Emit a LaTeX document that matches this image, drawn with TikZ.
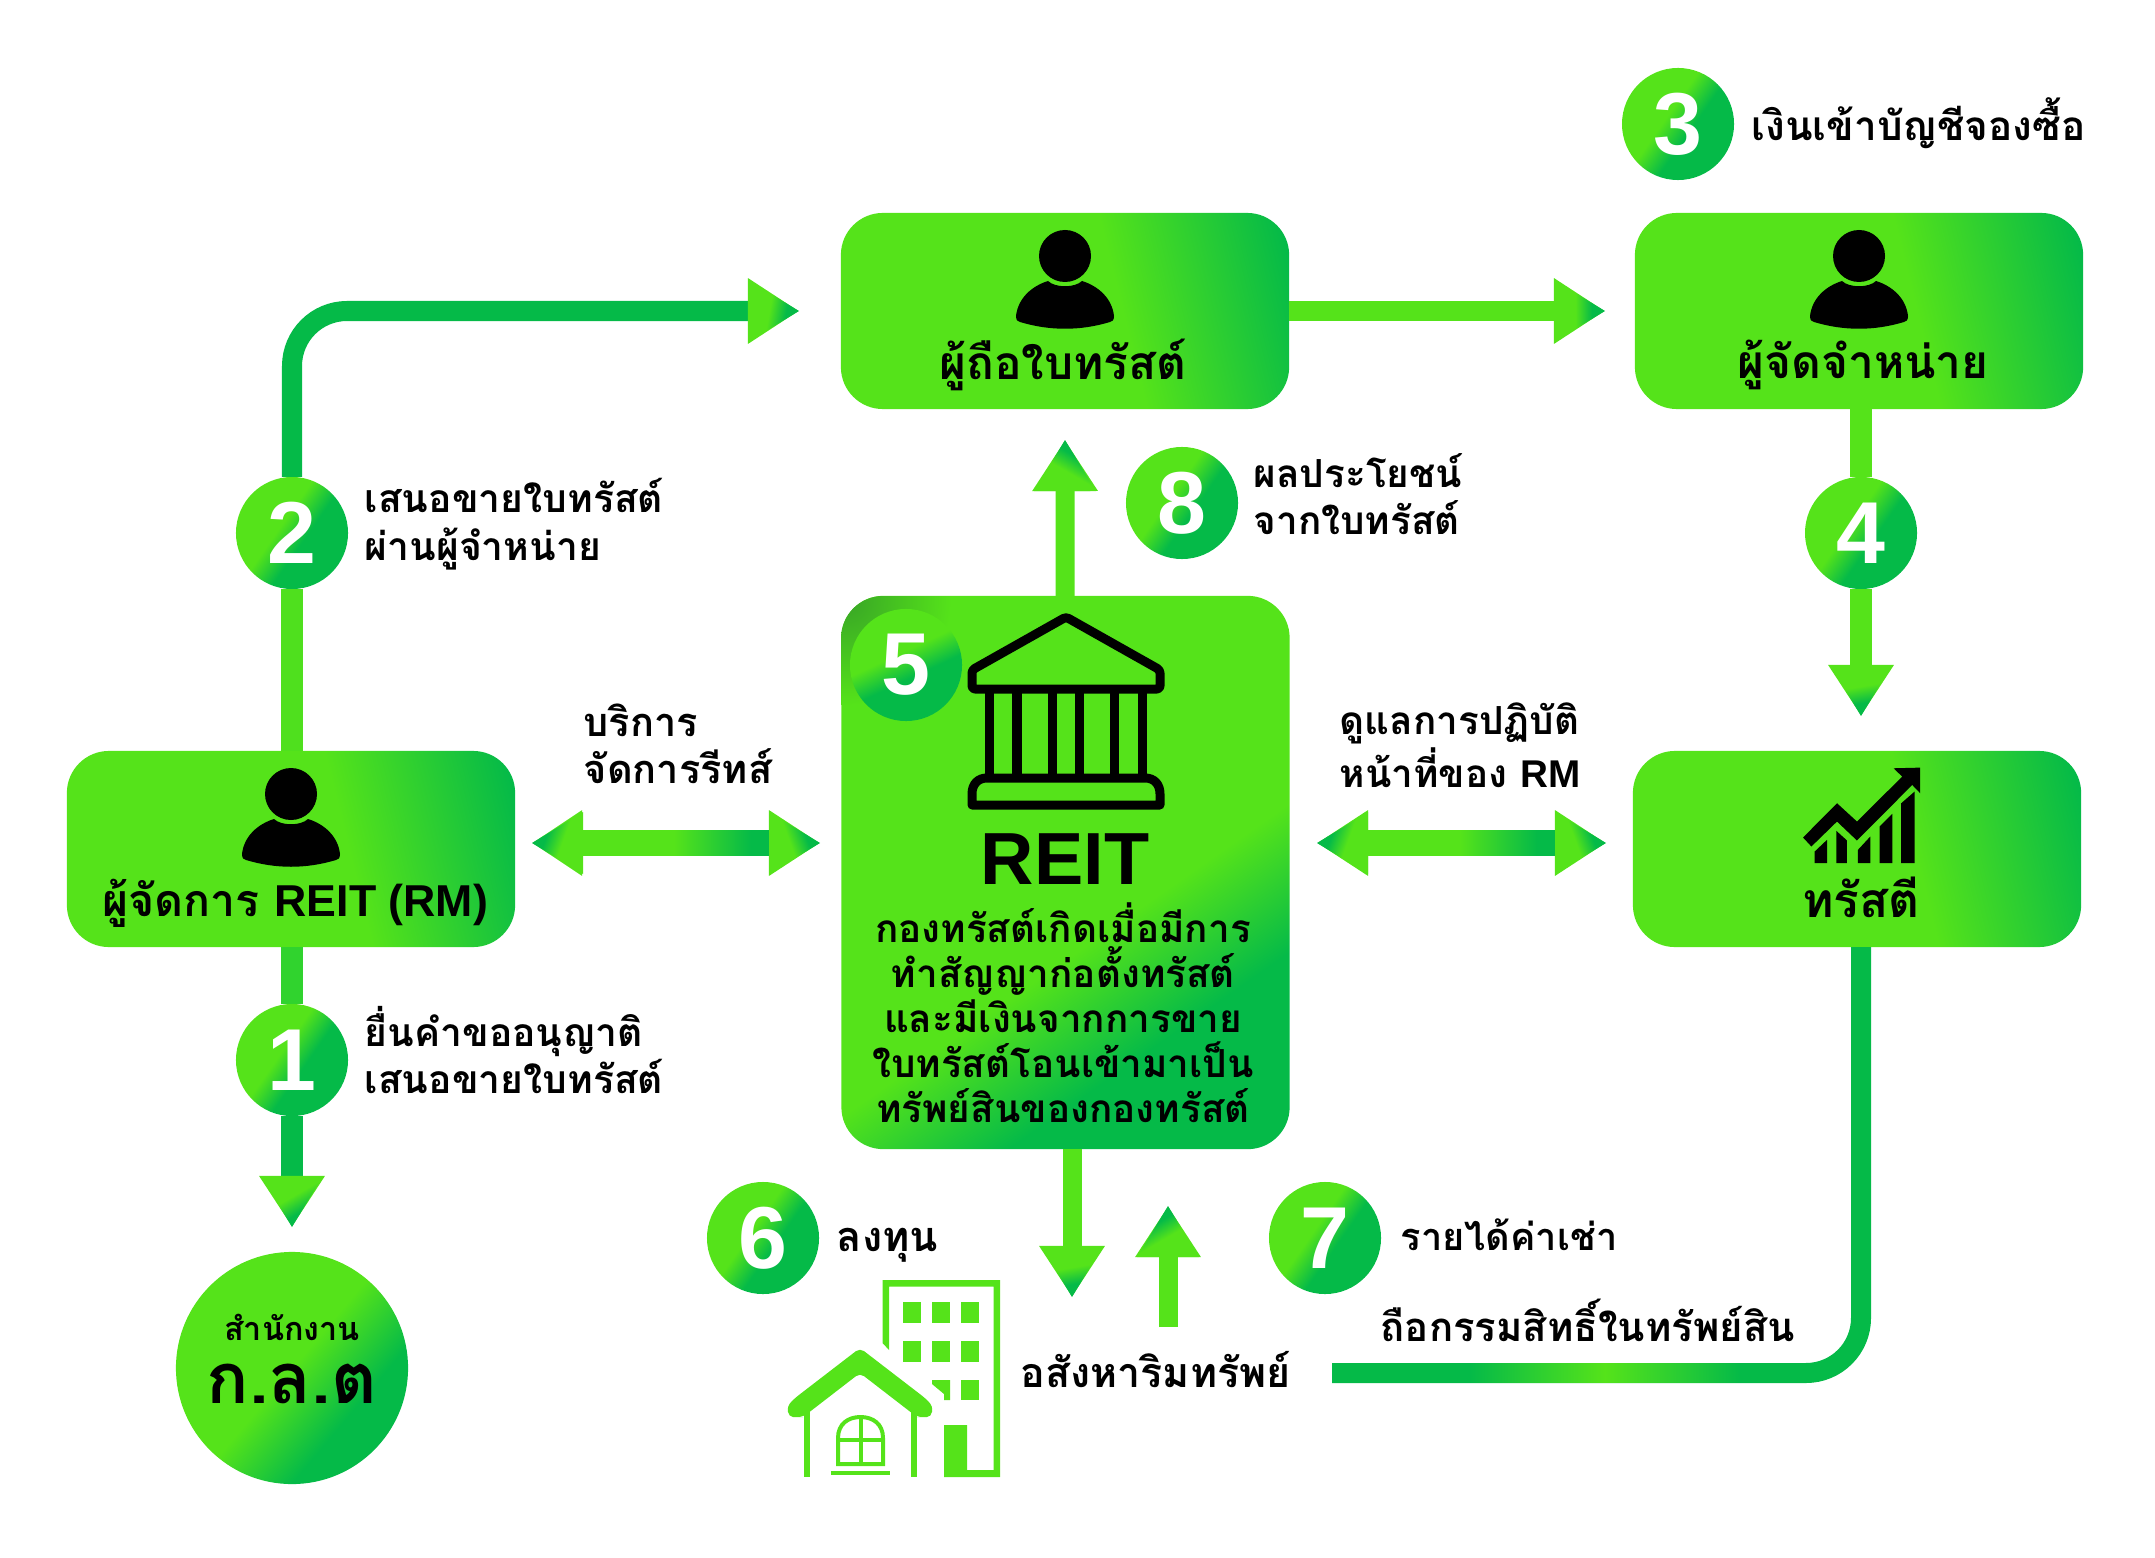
\documentclass[tikz,border=0pt]{standalone}
\usepackage{fontspec}
\usetikzlibrary{arrows.meta}
\newfontfamily\thaifont[Script=Thai]{Loma}
\newfontfamily\latfont{Liberation Sans}
\definecolor{lite}{HTML}{55E31A}
\definecolor{deep}{HTML}{05BA48}
\definecolor{midg}{HTML}{30D32E}
\definecolor{dusk}{HTML}{38A526}
\pgfdeclarehorizontalshading{boxfill}{100bp}{color(0bp)=(lite);color(57bp)=(lite);color(79bp)=(deep);color(100bp)=(deep)}
\pgfdeclarehorizontalshading{dotfill}{100bp}{color(0bp)=(lite);color(44bp)=(lite);color(56bp)=(deep);color(100bp)=(deep)}
\pgfdeclarehorizontalshading{bigfill}{100bp}{color(0bp)=(lite);color(50bp)=(lite);color(66bp)=(deep);color(100bp)=(deep)}
\pgfdeclarehorizontalshading{reitfill}{100bp}{color(0bp)=(lite);color(57bp)=(lite);color(69bp)=(deep);color(100bp)=(deep)}
\pgfdeclarehorizontalshading{headfill}{100bp}{color(0bp)=(lite);color(46bp)=(lite);color(62bp)=(deep);color(100bp)=(deep)}
\pgfdeclarehorizontalshading{shaftfill}{100bp}{color(0bp)=(lite);color(50bp)=(lite);color(70bp)=(deep);color(100bp)=(deep)}
\pgfdeclarehorizontalshading{bandfill}{100bp}{color(0bp)=(deep);color(25bp)=(deep);color(50bp)=(lite);color(75bp)=(deep);color(100bp)=(deep)}
\tikzset{
    greenbox/.style={shade,shading=boxfill,shading angle=14,rounded corners=.42cm,minimum width=4.48cm,minimum height=1.96cm,inner sep=0pt,outer sep=0pt},
    numdot/.style={circle,shade,shading=dotfill,shading angle=-35,minimum size=1.12cm,inner sep=0pt,outer sep=0pt,text=white,font=\latfont\bfseries\fontsize{25}{25}\selectfont},
    boxtext/.style={inner sep=0pt,font=\thaifont\bfseries\fontsize{#1}{15}\selectfont},
    boxtext/.default=13.1,
    sidetext/.style={inner sep=0pt,anchor=west,align=left,font=\thaifont\bfseries\fontsize{#1}{13.5}\selectfont},
    sidetext/.default=11,
    flow/.style={line width=.2cm,-{Triangle[length=.51cm,width=.62cm,color=lite]}},
    bar/.style={line width=.22cm},
    bankline/.style={line width=.09cm,line join=round,draw=black}
}
\newcommand{\tipshade}[3]{\shade[shading=headfill,shading angle=#3,shift={(#1)},rotate=#2] (0,0) -- (-51,31) -- (-51,-31) -- cycle;}
\newcommand{\personicon}[1]{\begin{scope}[shift={(#1)}]
    \fill (0,0) circle (26);
    \fill (-49,60) .. controls (-47,42) and (-33,30) .. (-17,25) .. controls (-10,32) and (10,32) .. (17,25) .. controls (33,30) and (47,42) .. (49,60) .. controls (49,65) and (47,65) .. (45,66) .. controls (15,75) and (-15,75) .. (-45,66) .. controls (-47,65) and (-49,65) .. (-49,60) -- cycle;
\end{scope}}
\begin{document}
\begin{tikzpicture}[x=.01cm,y=-.01cm]
                \useasboundingbox (0,0) rectangle (2155,1558);
                \node[greenbox] (holder) at (1065,311) {};
                \node[greenbox] (dist) at (1859,311) {};
                \node[greenbox] (rm) at (291,849) {};
                \node[greenbox] (trustee) at (1857,849) {};
                \node[greenbox,shading=reitfill,shading angle=-55,minimum height=5.53cm] (reit) at (1065.5,872.5) {};
                \begin{scope}
                    \clip[rounded corners=.42cm] (841,596) rectangle (1290,1149);
                    \shade[inner color=dusk,outer color=lite] (846,600) circle (105);
                \end{scope}
                \node[circle,shade,shading=bigfill,shading angle=-40,minimum size=2.32cm,inner sep=0pt,outer sep=0pt] (sec) at (292,1368) {};
                \node[numdot] (c1) at (292,1060) {1};
                \node[numdot] (c2) at (292,533) {2};
                \node[numdot] (c3) at (1678,124) {3};
                \node[numdot] (c4) at (1861,533) {4};
                \node[numdot,shading angle=-65] (c5) at (906,665) {5};
                \node[numdot] (c6) at (763,1238) {6};
                \node[numdot] (c7) at (1325,1238) {7};
                \node[numdot] (c8) at (1182,503) {8};
                \coordinate (t1) at (292,1227);
                \coordinate (t2) at (799,311);
                \coordinate (t3) at (1605,311);
                \coordinate (t4) at (1861,716);
                \coordinate (t8) at (1065,440);
                \coordinate (t6) at (1072,1297);
                \coordinate (t7) at (1168,1206);
                \coordinate (u7) at (1168,1327);
                \coordinate (pt) at (1332,1373);
                \coordinate (dla) at (532,843);
                \coordinate (dlb) at (820,843);
                \coordinate (dra) at (1317,843);
                \coordinate (drb) at (1606,843);
                \draw[bar,color=midg] (rm.south -| c1) -- (c1);
                \draw[flow,line width=.22cm,color=deep] (c1) -- (t1);
                \draw[bar,color=lite!92!deep] (rm.north -| c2) -- (c2);
                \draw[flow,color=deep,rounded corners=.55cm] (c2) |- (t2);
                \draw[flow,color=lite] (holder) -- (t3);
                \draw[bar,color=lite] (dist.south -| c4) -- (c4);
                \draw[flow,line width=.22cm,color=lite] (c4) -- (t4);
                \draw[flow,line width=.19cm,color=lite] (reit) -- (t8);
                \draw[flow,line width=.19cm,color=lite] (reit.south -| t6) -- (t6);
                \draw[flow,line width=.19cm,color=lite] (u7) -- (t7);
                \draw[line width=.2cm,color=deep,rounded corners=.55cm] (trustee.south -| c4) |- (pt);
                \draw[line width=.25cm,color=deep,{Triangle[length=.5cm,width=.62cm,color=lite]}-{Triangle[length=.51cm,width=.62cm,color=lite]}] (dla) -- (dlb);
                \draw[line width=.25cm,color=deep,{Triangle[length=.51cm,width=.62cm,color=lite]}-{Triangle[length=.51cm,width=.62cm,color=lite]}] (dra) -- (drb);
                \shade[shading=shaftfill] (578,830.5) rectangle (770,855.5);
                \shade[shading=shaftfill] (1364,830.5) rectangle (1556,855.5);
                \shade[shading=bandfill] (1470,1363.5) rectangle (1740,1382.5);
                \tipshade{t1}{-90}{-60}
                \tipshade{t2}{0}{-10}
                \tipshade{t3}{0}{0}
                \tipshade{t4}{-90}{-80}
                \tipshade{t8}{90}{60}
                \tipshade{t6}{-90}{-80}
                \tipshade{t7}{90}{120}
                \tipshade{dlb}{0}{20}
                \tipshade{drb}{0}{20}
                \tipshade{dla}{180}{160}
                \tipshade{dra}{180}{160}
                \personicon{1065,256}
                \personicon{1859,256}
                \personicon{291,794}
                \node[boxtext] (holdertext) at (1063,365) {ผู้ถือใบทรัสต์};
                \node[boxtext] (disttext) at (1863,365) {ผู้จัดจำหน่าย};
                \node[boxtext=12.7] (rmtext) at (295,903) {ผู้จัดการ {\latfont REIT (RM)}};
                \node[boxtext=13.6] (trusteetext) at (1861,897) {ทรัสตี};
                \node[inner sep=0pt,font=\latfont\bfseries\fontsize{21}{21}\selectfont] (reitname) at (1065,859) {REIT};
                \node[inner sep=0pt,align=center,font=\thaifont\bfseries\fontsize{11}{12.8}\selectfont] (reittext) at (1063,1013) {กองทรัสต์เกิดเมื่อมีการ\\ทำสัญญาก่อตั้งทรัสต์\\และมีเงินจากการขาย\\ใบทรัสต์โอนเข้ามาเป็น\\ทรัพย์สินของกองทรัสต์};
                \node[inner sep=0pt,font=\thaifont\bfseries\fontsize{9.2}{10}\selectfont] (secsmall) at (292,1327) {สำนักงาน};
                \node[inner sep=0pt,font=\thaifont\bfseries\fontsize{20}{20}\selectfont] (secbig) at (292,1384) {ก.ล.ต};
                \node[sidetext=11.1] (l2) at (364,524) {เสนอขายใบทรัสต์\\ผ่านผู้จำหน่าย};
                \node[sidetext=11.1] (l1) at (364,1050) {ยื่นคำขออนุญาติ\\เสนอขายใบทรัสต์};
                \node[sidetext=11.5] (l3) at (1751,123) {เงินเข้าบัญชีจองซื้อ};
                \node[sidetext] (l8) at (1253,494) {ผลประโยชน์\\จากใบทรัสต์};
                \node[sidetext=11.3] (lrisk) at (583,744) {บริการ\\จัดการรีทส์};
                \node[sidetext] (lduty) at (1339,745) {ดูแลการปฏิบัติ\\หน้าที่ของ {\latfont RM}};
                \node[sidetext=11.8] (l6) at (836,1245) {ลงทุน};
                \node[sidetext=10.8] (l7) at (1400,1235) {รายได้ค่าเช่า};
                \node[sidetext=11.4] (lown) at (1380,1320) {ถือกรรมสิทธิ์ในทรัพย์สิน};
                \node[sidetext=11.7] (lprop) at (1020,1370) {อสังหาริมทรัพย์};
                \draw[bankline,rounded corners=.03cm] (1066,617) -- (1160,670) -- (1160,689) -- (972,689) -- (972,670) -- cycle;
                \foreach \colx in {989.5,1017,1052.5,1079.5,1114.5,1142.5}
                    \draw[bankline,line width=.095cm] (\colx,689) -- (\colx,778);
                \draw[bankline] (972,805) -- (972,794) .. controls (972,784) and (978,778) .. (987,778) -- (1145,778) .. controls (1154,778) and (1160,784) .. (1160,794) -- (1160,805) -- cycle;
                \fill[lite] (882.5,1280) -- (1000,1280) -- (1000,1477) -- (944,1477) -- (944,1425) -- (967,1425) -- (967,1470) -- (993.5,1470) -- (993.5,1286.5) -- (889,1286.5) -- (889,1350) -- (882.5,1343) -- cycle;
                \foreach \winx in {903,932,960.5}
                    \foreach \winy in {1302,1341}
                        \fill[lite] (\winx,\winy) rectangle +(18,21);
                \fill[lite] (960.5,1380) rectangle +(18,20);
                \fill[lite] (932,1380) -- (950,1380) -- (950,1400) -- (944,1400) -- (944,1394) -- (932,1384) -- cycle;
                \fill[lite,rounded corners=.05cm] (860,1348) -- (925,1398) .. controls (935,1408) and (932,1417) .. (922,1417) -- (917,1417) -- (860,1373) -- (803,1417) -- (798,1417) .. controls (788,1417) and (785,1408) .. (795,1398) -- cycle;
                \fill[lite] (803.5,1410) rectangle (810,1477);
                \fill[lite] (911,1410) rectangle (917,1477);
                \draw[lite,line width=.04cm] (838,1464) -- (838,1438) .. controls (838,1424) and (848,1417) .. (860.5,1417) .. controls (873,1417) and (883,1424) .. (883,1438) -- (883,1464) -- cycle;
                \draw[lite,line width=.04cm] (860.5,1417) -- (860.5,1464) (838,1440) -- (883,1440);
                \fill[lite] (831,1471) rectangle (890,1475);
                \begin{scope}[shift={(1620,740)},x=.003333cm,y=-.003333cm]
                    \fill (550,293) -- (652,190) -- (712,245) -- (848,110) -- (822,85) -- (902,83) -- (902,160) -- (878,135) -- (712,302) -- (652,245) -- (575,320) -- cycle;
                    \fill (585,370) -- (585,335) -- (622,300) -- (622,370) -- cycle;
                    \fill (650,370) -- (650,273) -- (682,302) -- (682,370) -- cycle;
                    \fill (715,370) -- (715,330) -- (752,290) -- (752,370) -- cycle;
                    \fill (780,370) -- (780,260) -- (818,222) -- (818,370) -- cycle;
                    \fill (845,370) -- (845,190) -- (885,155) -- (885,370) -- cycle;
                \end{scope}
            \end{tikzpicture}
\end{document}
